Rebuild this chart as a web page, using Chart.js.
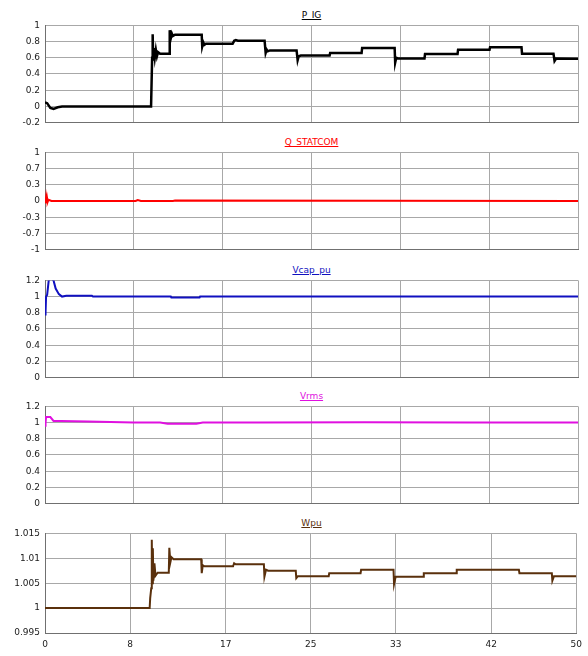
<!DOCTYPE html>
<html>
<head>
<meta charset="utf-8">
<script src="https://cdn.jsdelivr.net/npm/chart.js@4"></script>
<style>
  body { margin: 0; background: #fff; }
  #wrap { position: relative; width: 588px; height: 656px; }
  canvas { position: absolute; left: 0; }
  .ttl {
    position: absolute; left: 45px; width: 533px; text-align: center;
    font: 9px "DejaVu Sans", sans-serif; text-decoration: underline;
  }
</style>
</head>
<body>
<div id="wrap"></div>
<script>
// x axis: simulation time 0..50
const xTickLabels = ['0', '8', '17', '25', '33', '42', '50'];

// P_IG
const pigTime  = [0, 0.2, 0.5, 0.8, 1.2, 1.6, 9.95, 10.0, 10.05, 10.1, 10.15, 10.2, 10.3, 10.4, 10.5, 10.6, 10.8, 11.65, 11.7, 11.8, 11.9, 12.0, 12.2, 14.7, 14.75, 14.85, 14.95, 15.1, 17.6, 17.75, 17.9, 18.1, 20.6, 20.7, 20.8, 20.9, 21.1, 23.6, 23.7, 23.8, 24.0, 26.7, 26.75, 29.7, 29.75, 32.8, 32.85, 32.95, 33.1, 35.6, 35.65, 38.7, 38.75, 41.7, 41.75, 44.7, 44.75, 47.7, 47.8, 47.95, 50];
const pigValue = [0.05, 0.04, -0.02, -0.03, -0.01, 0, 0, 0.0, 0.6, 0.89, 0.58, 0.72, 0.6, 0.7, 0.62, 0.67, 0.65, 0.65, 0.94, 0.84, 0.9, 0.87, 0.885, 0.885, 0.74, 0.79, 0.76, 0.773, 0.773, 0.81, 0.82, 0.812, 0.812, 0.66, 0.70, 0.68, 0.691, 0.691, 0.57, 0.62, 0.628, 0.628, 0.659, 0.659, 0.722, 0.722, 0.54, 0.6, 0.592, 0.592, 0.648, 0.648, 0.699, 0.699, 0.731, 0.731, 0.651, 0.651, 0.56, 0.59, 0.588];
const pigTicks = [-0.2, 0, 0.2, 0.4, 0.6, 0.8, 1];
const pigTickLabels = ['-0.2', '0', '0.2', '0.4', '0.6', '0.8', '1'];

// Q_STATCOM
const qTime  = [0, 0.05, 0.1, 0.15, 0.2, 0.25, 0.3, 0.4, 0.6, 8.5, 8.7, 9.0, 12.0, 12.2, 50];
const qValue = [0.07, -0.05, 0.06, -0.04, 0.05, -0.02, 0.01, 0.02, 0, 0, 0.02, 0, 0, 0.01, 0];
const qTicks = [-1, -2 / 3, -1 / 3, 0, 1 / 3, 2 / 3, 1];
const qTickLabels = ['-1', '-0.7', '-0.3', '0', '0.3', '0.7', '1'];

// Vcap_pu
const vcapTime  = [0, 0.05, 0.1, 0.2, 0.35, 0.55, 0.8, 1.0, 1.3, 1.6, 2.0, 4.4, 4.5, 11.8, 11.85, 14.5, 14.55, 50];
const vcapValue = [0.78, 0.8, 1.0, 1.02, 1.2, 1.23, 1.2, 1.1, 1.03, 1.0, 1.01, 1.01, 1.0, 1.0, 0.99, 0.99, 1.0, 1.0];

// Vrms
const vrmsTime  = [0, 0.05, 0.1, 0.5, 0.8, 1.5, 4.0, 8.3, 10.8, 11.5, 14.2, 14.8, 20.0, 30.0, 40.0, 50];
const vrmsValue = [0.96, 1.0, 1.068, 1.068, 1.02, 1.02, 1.015, 1.0, 1.0, 0.985, 0.985, 1.0, 1.0, 1.003, 1.0, 1.0];
const vTicks = [0, 0.2, 0.4, 0.6, 0.8, 1, 1.2];
const vTickLabels = ['0', '0.2', '0.4', '0.6', '0.8', '1', '1.2'];

// Wpu
const wTime  = [0, 9.85, 9.9, 10.0, 10.05, 10.1, 10.15, 10.2, 10.3, 10.4, 10.6, 11.65, 11.7, 11.8, 11.9, 12.1, 14.7, 14.75, 14.85, 15.0, 17.7, 17.8, 17.95, 20.6, 20.65, 20.8, 21.0, 23.6, 23.65, 23.8, 26.7, 26.75, 29.7, 29.75, 32.8, 32.85, 33.0, 35.6, 35.65, 38.7, 38.75, 44.6, 44.65, 47.7, 47.75, 47.9, 50];
const wValue = [1.0, 1.0, 1.002, 1.004, 1.0137, 1.005, 1.012, 1.0055, 1.009, 1.0065, 1.0071, 1.0071, 1.0121, 1.0092, 1.0102, 1.0098, 1.0098, 1.007, 1.0086, 1.0084, 1.0084, 1.009, 1.0088, 1.0088, 1.0063, 1.0077, 1.0075, 1.0075, 1.006, 1.0064, 1.0064, 1.007, 1.007, 1.0077, 1.0077, 1.0048, 1.0063, 1.0063, 1.007, 1.007, 1.0077, 1.0077, 1.007, 1.007, 1.0055, 1.0064, 1.0064];
const wTicks = [0.995, 1, 1.005, 1.01, 1.015];
const wTickLabels = ['0.995', '1', '1.005', '1.01', '1.015'];

const panels = [
  { title: 'P_IG', color: '#000000', width: 2.5, time: pigTime, value: pigValue, ticks: pigTicks, labels: pigTickLabels, top: 23 },
  { title: 'Q_STATCOM', color: '#ff0000', width: 2, time: qTime, value: qValue, ticks: qTicks, labels: qTickLabels, top: 150 },
  { title: 'Vcap_pu', color: '#1010c0', width: 2, time: vcapTime, value: vcapValue, ticks: vTicks, labels: vTickLabels, top: 278 },
  { title: 'Vrms', color: '#e010e0', width: 2, time: vrmsTime, value: vrmsValue, ticks: vTicks, labels: vTickLabels, top: 404 },
  { title: 'Wpu', color: '#5a300c', width: 2, time: wTime, value: wValue, ticks: wTicks, labels: wTickLabels, top: 531, last: true }
];

const PLOT_H = 102;
const PAD = 8;
const XAXIS_H = 22;
const wrap = document.getElementById('wrap');

panels.forEach(p => {
  const ttl = document.createElement('div');
  ttl.className = 'ttl';
  ttl.style.top = (p.top - 13) + 'px';
  ttl.style.color = p.color;
  ttl.textContent = p.title;
  wrap.appendChild(ttl);

  const canvas = document.createElement('canvas');
  const h = PLOT_H + PAD * 2 + (p.last ? XAXIS_H : 0);
  canvas.width = 588;
  canvas.height = h;
  canvas.style.top = (p.top - PAD) + 'px';
  wrap.appendChild(canvas);

  // bottom panel has grid at the rounded labels, upper ones at even sixths
  const xVals = p.last ? xTickLabels.map(Number) : xTickLabels.map((_, i) => i * 50 / 6);

  new Chart(canvas.getContext('2d'), {
    type: 'line',
    data: {
      datasets: [{
        data: p.time.map((t, i) => ({ x: t, y: p.value[i] })),
        borderColor: p.color,
        borderWidth: p.width,
        pointRadius: 0,
        tension: 0,
        fill: false
      }]
    },
    options: {
      responsive: false,
      animation: false,
      layout: { padding: { left: 0, right: 10, top: PAD, bottom: PAD } },
      plugins: { legend: { display: false }, tooltip: { enabled: false } },
      scales: {
        x: {
          type: 'linear',
          min: 0,
          max: 50,
          afterBuildTicks: s => { s.ticks = xVals.map(v => ({ value: v })); },
          afterFit: s => { s.height = p.last ? XAXIS_H : 0; },
          ticks: {
            display: !!p.last,
            color: '#202020',
            font: { family: 'DejaVu Sans', size: 9 },
            padding: 6,
            maxRotation: 0,
            callback: (v, i) => xTickLabels[i]
          },
          grid: { color: '#a8a8a8', lineWidth: 1, drawTicks: false },
          border: { color: '#707070', width: 1 }
        },
        y: {
          min: p.ticks[0],
          max: p.ticks[p.ticks.length - 1],
          afterBuildTicks: s => { s.ticks = p.ticks.map(v => ({ value: v })); },
          afterFit: s => { s.width = 45; },
          ticks: {
            color: '#202020',
            font: { family: 'DejaVu Sans', size: 9 },
            padding: 5,
            callback: (v, i) => p.labels[i]
          },
          grid: { color: '#a8a8a8', lineWidth: 1, drawTicks: false },
          border: { color: '#707070', width: 1 }
        }
      }
    }
  });
});
</script>
</body>
</html>
